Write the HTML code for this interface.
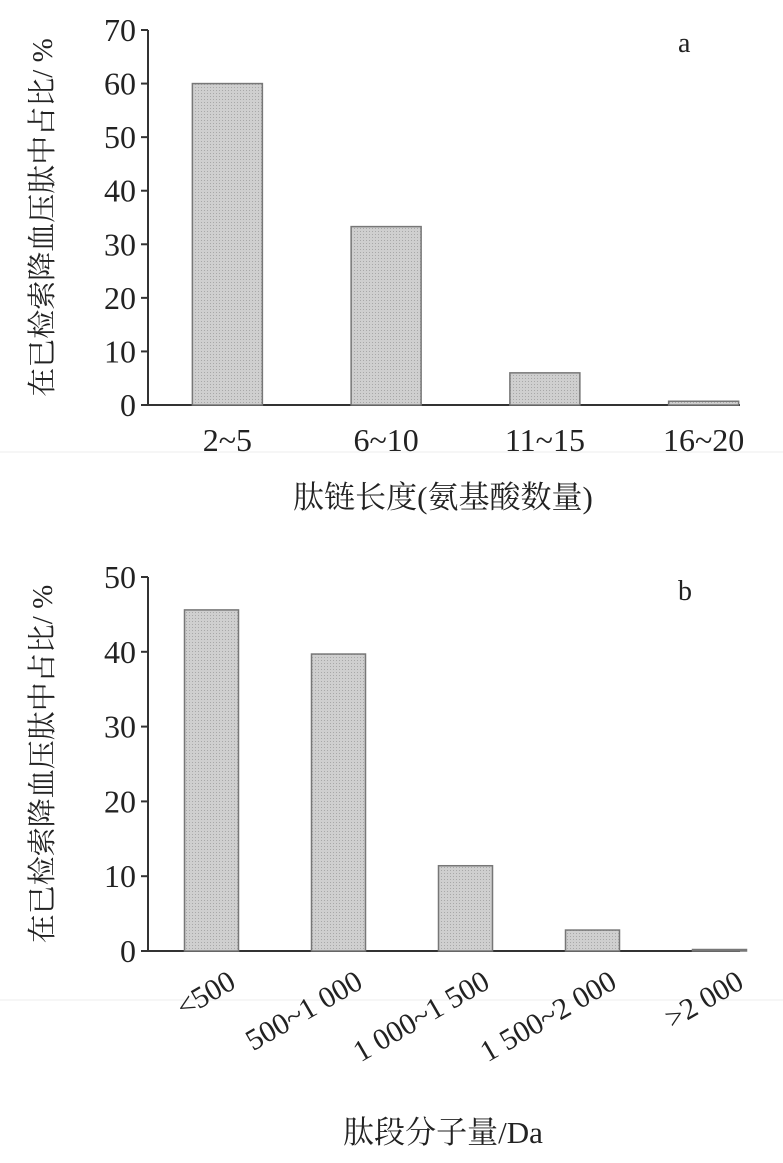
<!DOCTYPE html>
<html><head><meta charset="utf-8"><style>
body{margin:0;background:#fff}
svg text{font-family:"Liberation Serif","Noto Serif CJK SC",serif;fill:#222}
</style></head><body>
<svg width="783" height="1158">
<defs><pattern id="dots" width="3" height="3" patternUnits="userSpaceOnUse"><rect width="3" height="3" fill="#cfcfcf"/><rect width="1" height="1" fill="#a8a8a8"/></pattern></defs>
<line x1="0" y1="452" x2="783" y2="452" stroke="#eee"/>
<line x1="0" y1="1000" x2="783" y2="1000" stroke="#eee"/>
<g id="ca"></g>
<g id="cb"></g>
</svg>
<script>
const catsA=["2~5","6~10","11~15","16~20"];
const valsA=[60,33.3,6,0.7];
const ticksA=[0,10,20,30,40,50,60,70];
const catsB=["<500","500~1 000","1 000~1 500","1 500~2 000",">2 000"];
const valsB=[45.6,39.7,11.4,2.8,0.2];
const ticksB=[0,10,20,30,40,50];
const NS="http://www.w3.org/2000/svg";
function mk(p,t,a,txt){const e=document.createElementNS(NS,t);for(const k in a)e.setAttribute(k,a[k]);if(txt!==undefined)e.textContent=txt;p.appendChild(e);return e;}
function chart(g,cats,vals,ticks,cfg){
  const y=v=>cfg.y0-(v-ticks[0])/(ticks[ticks.length-1]-ticks[0])*(cfg.y0-cfg.y1);
  const step=(cfg.xr-cfg.xl)/cats.length;
  let e=mk(g,'line',{x1:cfg.xl,y1:cfg.y1,x2:cfg.xl,y2:cfg.y0,stroke:'#333','stroke-width':2});
  
  e=mk(g,'line',{x1:cfg.xl,y1:cfg.y0,x2:cfg.xend,y2:cfg.y0,stroke:'#333','stroke-width':2});
  
  ticks.forEach(t=>{
    e=mk(g,'line',{x1:cfg.xl-7,x2:cfg.xl,y1:y(t),y2:y(t),stroke:'#333','stroke-width':2});
    
    e=mk(g,'text',{x:cfg.xl-12,y:y(t)+11,'text-anchor':'end','font-size':32},t);
    
  });
  cats.forEach((c,i)=>{
    const cx=cfg.xl+step*i+step/2;
    e=mk(g,'rect',{x:cx-cfg.bw/2,y:y(vals[i]),width:cfg.bw,height:cfg.y0-y(vals[i]),fill:'url(#dots)',stroke:'#777','stroke-width':1.5});
    
    if(cfg.rot){
      e=mk(g,'text',{x:cx+26,y:cfg.y0+36,'text-anchor':'end','font-size':30,transform:`rotate(-30 ${cx+26} ${cfg.y0+36})`},c);
    }else{
      e=mk(g,'text',{x:cx,y:cfg.y0+46,'text-anchor':'middle','font-size':32},c);
    }
    
  });
  e=mk(g,'text',{x:cfg.lx,y:cfg.ly,'font-size':28},cfg.letter);
  
  const my=(cfg.y0+cfg.y1)/2;
  e=mk(g,'text',{x:52,y:my,'text-anchor':'middle','font-size':29,transform:`rotate(-90 52 ${my})`},'在已检索降血压肽中占比/ %');
  
  e=mk(g,'text',{x:cfg.tx,y:cfg.ty,'text-anchor':'middle','font-size':31},cfg.title);
  
}
chart(document.getElementById('ca'),catsA,valsA,ticksA,{xl:148,xr:783,xend:740,y0:405,y1:30,bw:70,rot:false,letter:'a',lx:678,ly:52,title:'肽链长度(氨基酸数量)',tx:443,ty:508});
chart(document.getElementById('cb'),catsB,valsB,ticksB,{xl:148,xr:783,xend:740,y0:951,y1:577,bw:54,rot:true,letter:'b',lx:678,ly:600,title:'肽段分子量/Da',tx:443,ty:1143});
</script>
</body></html>
